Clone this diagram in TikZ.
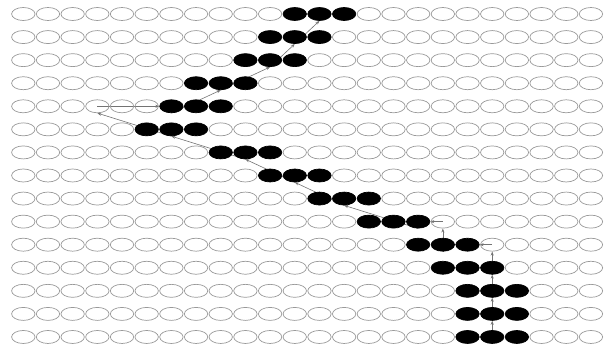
\documentclass[tikz,border=0pt]{standalone}
\usetikzlibrary{shapes.geometric,arrows.meta,backgrounds}
\begin{document}
\begin{tikzpicture}[x=1pt,y=-1pt,
  cell/.style={ellipse,draw=black!40,line width=0.7pt,minimum width=23.4pt,minimum height=13pt,inner sep=0pt},
  oncell/.style={fill=black,draw=black},
  arr/.style={draw=black!55,line width=0.6pt,-{Stealth[length=4pt,width=3pt]}}]
\useasboundingbox (0,0) rectangle (614,350);
\foreach \r/\s in {0/11,1/10,2/9,3/7,4/6,5/5,6/8,7/10,8/12,9/14,10/16,11/17,12/18,13/18,14/18} {
  \foreach \c in {0,...,23} {
    \pgfmathtruncatemacro\isOn{(\c>=\s)&&(\c<=\s+2)}
    \ifnum\isOn=1
      \node[cell,oncell] (n\r-\c) at ({23.3+24.68*\c},{14+23.07*\r}) {};
    \else
      \node[cell] (n\r-\c) at ({23.3+24.68*\c},{14+23.07*\r}) {};
    \fi
  }
}
\begin{scope}[on background layer]
  \foreach \a/\b in {14-19/13-19,13-19/12-19,12-19/11-19,11-19/10-19,10-17/9-17,
                     9-16/8-13,8-13/7-11,7-11/6-9,6-9/5-6,5-6/4-3,
                     4-6/3-8,3-8/2-10,2-10/1-11,1-11/0-12}
    \draw[arr] (n\a.south) -- (n\b.south);
  \foreach \a/\b in {10-19/10-18,10-18/10-17,9-17/9-16,4-3/4-6}
    \draw[arr] (n\a.center) -- (n\b);
\end{scope}
\end{tikzpicture}
\end{document}
